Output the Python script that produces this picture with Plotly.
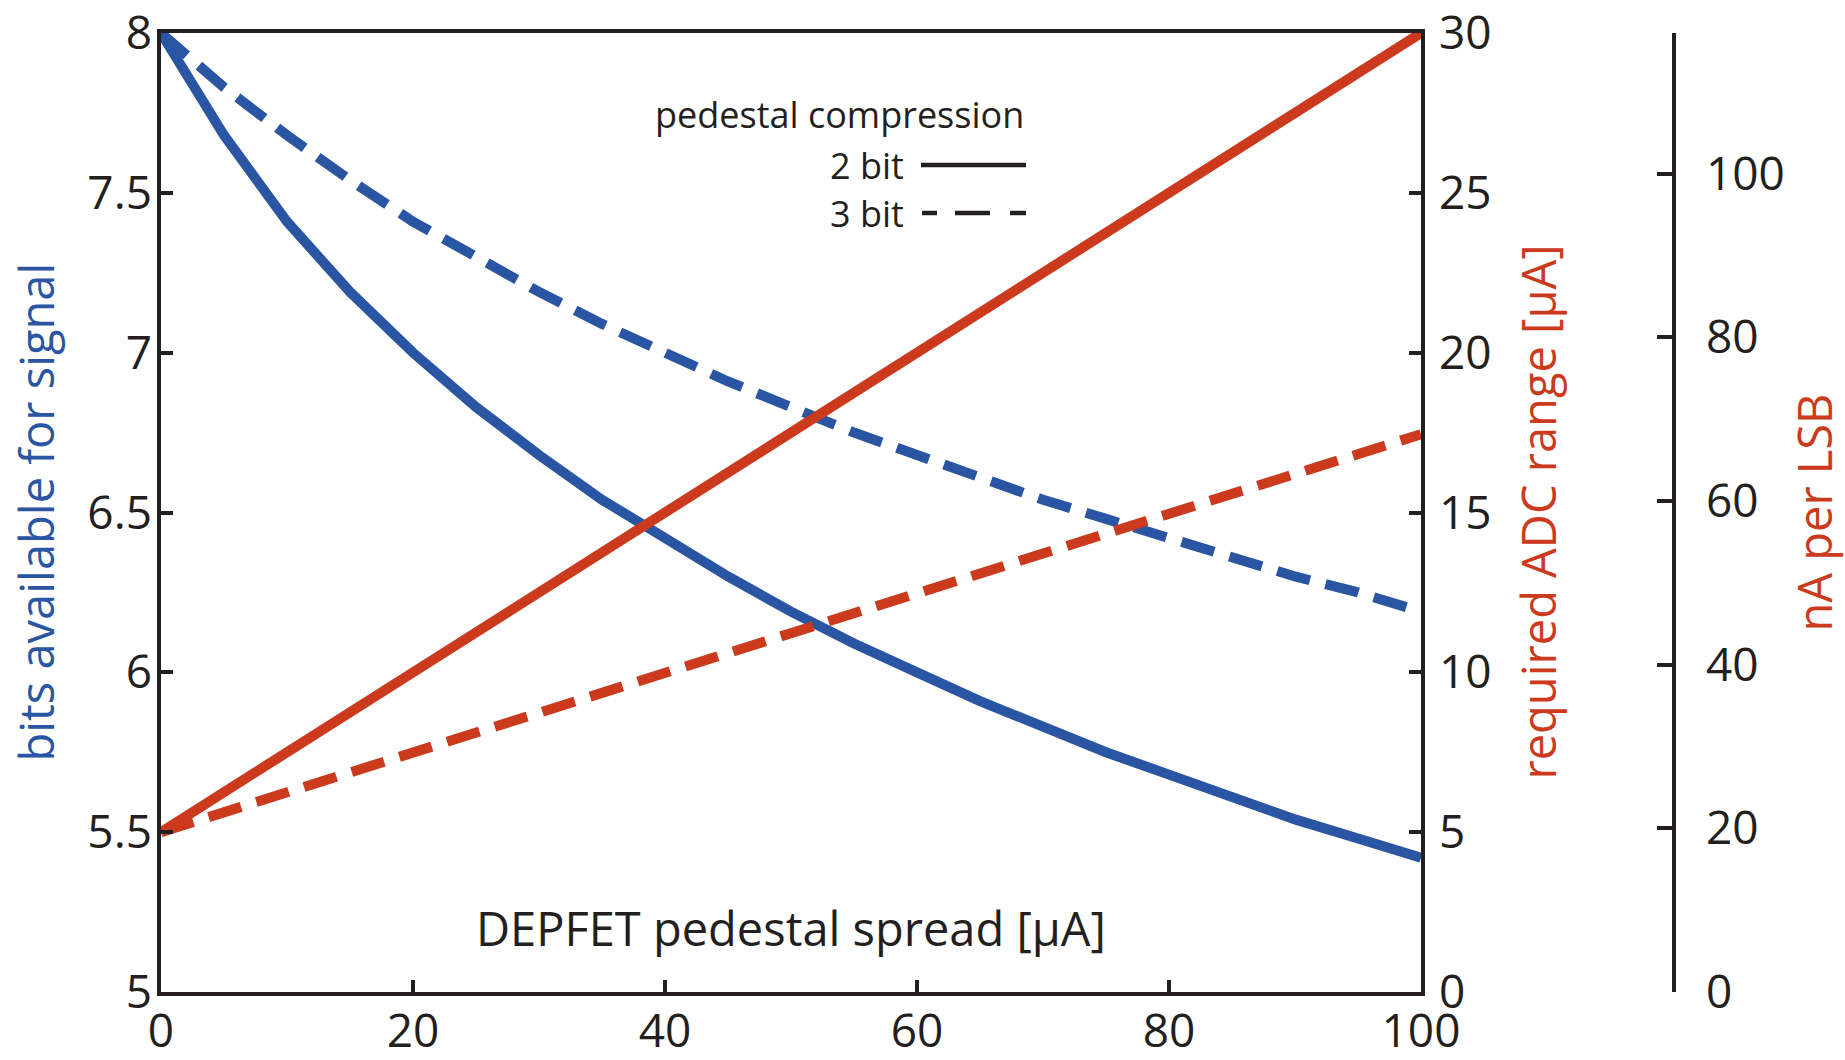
import plotly.graph_objects as go

# ---- data ----
spread = [0, 5, 10, 15, 20, 25, 30, 35, 40, 45, 50, 55, 60, 65, 70, 75, 80, 85, 90, 95, 100]
bits_2bit = [8.00, 7.68, 7.41, 7.19, 7.00, 6.83, 6.68, 6.54, 6.42, 6.30, 6.19,
             6.09, 6.00, 5.91, 5.83, 5.75, 5.68, 5.61, 5.54, 5.48, 5.42]
bits_3bit = [8.00, 7.83, 7.68, 7.54, 7.41, 7.30, 7.19, 7.09, 7.00, 6.91, 6.83,
             6.75, 6.68, 6.61, 6.54, 6.48, 6.42, 6.36, 6.30, 6.25, 6.19]
adc_x = [0, 100]
adc_2bit = [5.0, 30.0]
adc_3bit = [5.0, 17.45]

x_ticks = [0, 20, 40, 60, 80, 100]
bits_ticks = [5, 5.5, 6, 6.5, 7, 7.5, 8]
adc_ticks = [0, 5, 10, 15, 20, 25, 30]
lsb_ticks = [0, 20, 40, 60, 80, 100]

BLUE = "#2a55a2"
RED = "#cc3a1d"
INK = "#231f20"
FONT = "Open Sans"

W, H = 1845, 1060
ML, MR, MT, MB = 161, 165, 33, 68
PW = W - ML - MR
PH = H - MT - MB
PLOT_RIGHT = 1421
AX3_X = 1674


def px(xp):
    return (xp - ML) / PW


def py(yp):
    return (H - MB - yp) / PH


fig = go.Figure()
fig.add_trace(go.Scatter(x=spread, y=bits_2bit, mode="lines",
                         line=dict(color=BLUE, width=10), yaxis="y", showlegend=False))
fig.add_trace(go.Scatter(x=spread, y=bits_3bit, mode="lines",
                         line=dict(color=BLUE, width=10, dash="34px,16px"), yaxis="y", showlegend=False))
fig.add_trace(go.Scatter(x=adc_x, y=adc_2bit, mode="lines",
                         line=dict(color=RED, width=10), yaxis="y2", showlegend=False))
fig.add_trace(go.Scatter(x=adc_x, y=adc_3bit, mode="lines",
                         line=dict(color=RED, width=10, dash="34px,16px"), yaxis="y2", showlegend=False))
fig.add_trace(go.Scatter(x=[None], y=[None], yaxis="y3", showlegend=False, hoverinfo="skip"))

tickfont = dict(family=FONT, size=46, color=INK)
axis_common = dict(showgrid=False, zeroline=False, showline=True, linecolor=INK, linewidth=3.5,
                   ticks="inside", ticklen=12, tickwidth=3.5, tickcolor=INK, tickfont=tickfont,
                   automargin=False, ticklabeloverflow="allow")

fig.update_layout(
    width=W, height=H,
    margin=dict(l=ML, r=MR, t=MT, b=MB),
    paper_bgcolor="white", plot_bgcolor="white",
    xaxis=dict(domain=[0, (PLOT_RIGHT - ML) / PW], range=[0, 100], tickvals=x_ticks,
               mirror=True, ticklabelstandoff=-4, **axis_common),
    yaxis=dict(range=[5, 8], tickvals=bits_ticks, ticklabelstandoff=-4, **axis_common),
    yaxis2=dict(range=[0, 30], tickvals=adc_ticks, overlaying="y", side="right", anchor="x",
                ticklabelstandoff=5, **axis_common),
    yaxis3=dict(range=[0, 30000 / 256], tickvals=lsb_ticks, overlaying="y", side="right",
                anchor="free", position=px(AX3_X), ticklabelstandoff=21,
                **{**axis_common, "ticklen": 15}),
)

ann_font = dict(family=FONT, size=47)
fig.add_annotation(text="bits available for signal", xref="paper", yref="paper",
                   x=px(35), y=0.5, textangle=-90, showarrow=False,
                   xanchor="center", yanchor="middle", font=dict(ann_font, color=BLUE))
fig.add_annotation(text="required ADC range [µA]", xref="paper", yref="paper",
                   x=px(1537), y=0.5, textangle=-90, showarrow=False,
                   xanchor="center", yanchor="middle", font=dict(ann_font, color=RED))
fig.add_annotation(text="nA per LSB", xref="paper", yref="paper",
                   x=px(1813), y=0.5, textangle=-90, showarrow=False,
                   xanchor="center", yanchor="middle", font=dict(ann_font, color=RED))
fig.add_annotation(text="DEPFET pedestal spread [µA]", xref="paper", yref="paper",
                   x=px(791), y=py(928), showarrow=False,
                   xanchor="center", yanchor="middle", font=dict(ann_font, color=INK))

# legend (text left, line sample right)
leg_font = dict(family=FONT, size=36, color=INK)
fig.add_annotation(text="pedestal compression", xref="paper", yref="paper",
                   x=px(1026), y=py(114), showarrow=False, xanchor="right", yanchor="middle",
                   font=leg_font)
fig.add_annotation(text="2 bit", xref="paper", yref="paper",
                   x=px(906), y=py(165), showarrow=False, xanchor="right", yanchor="middle",
                   font=leg_font)
fig.add_annotation(text="3 bit", xref="paper", yref="paper",
                   x=px(906), y=py(213), showarrow=False, xanchor="right", yanchor="middle",
                   font=leg_font)
fig.add_shape(type="line", xref="paper", yref="paper", x0=px(921), x1=px(1026),
              y0=py(165), y1=py(165), line=dict(color=INK, width=4.5))
for a, b in [(922, 937), (955, 990), (1010, 1026)]:
    fig.add_shape(type="line", xref="paper", yref="paper", x0=px(a), x1=px(b),
                  y0=py(213), y1=py(213), line=dict(color=INK, width=4.5))

fig.write_html("out.html")
